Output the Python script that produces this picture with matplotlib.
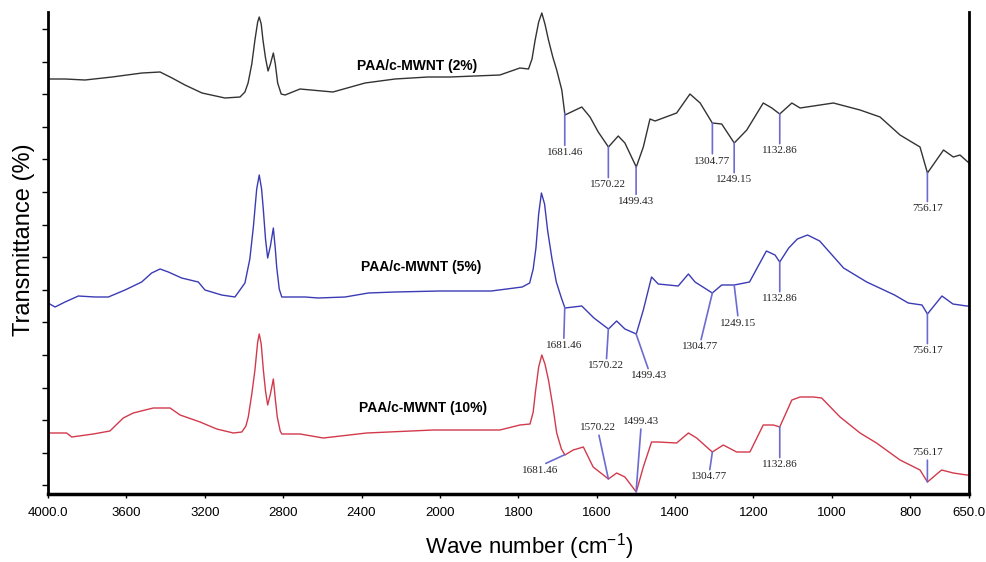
import numpy as np
import matplotlib
matplotlib.use('Agg')
import matplotlib.pyplot as plt

plt.rcParams['font.family'] = ['Liberation Sans', 'DejaVu Sans']
plt.rcParams['mathtext.fontset'] = 'custom'
plt.rcParams['mathtext.rm'] = 'Liberation Sans'
plt.rcParams['mathtext.it'] = 'Liberation Sans:italic'
plt.rcParams['mathtext.bf'] = 'Liberation Sans:bold'

# FTIR spectra, wave number (cm-1) vs transmittance (arbitrary offset units)
wn_black = [4000, 3913, 3811, 3673, 3520, 3428, 3367, 3301, 3214, 3097, 3020, 2995, 2979, 2960, 2944, 2930,
            2922, 2912, 2903, 2890, 2877, 2865, 2850, 2840, 2828, 2810, 2790, 2714, 2546, 2382, 2229, 2061,
            1974, 1847, 1796, 1774, 1765, 1757, 1748, 1740, 1732, 1723, 1712, 1702, 1689, 1681, 1638, 1617,
            1596, 1570, 1545, 1528, 1499, 1481, 1464, 1451, 1396, 1362, 1336, 1305, 1281, 1249, 1217, 1175,
            1153, 1133, 1102, 1081, 1047, 996, 928, 877, 826, 792, 775, 756, 715, 690, 673, 650]
t_black = [415, 415, 414, 417, 421, 422, 416, 409, 401, 396, 397, 402, 411, 430, 454, 472,
           477, 470, 454, 436, 423, 430, 441, 430, 411, 400, 399, 405, 402, 411, 415, 417,
           417, 419, 426, 425, 435, 454, 472, 481, 470, 454, 437, 424, 404, 379, 387, 377,
           362, 347, 358, 351, 327, 347, 375, 373, 381, 400, 391, 371, 370, 351, 364, 391,
           386, 380, 391, 386, 388, 391, 384, 377, 359, 351, 347, 321, 344, 337, 339, 331]

wn_blue = [4000, 3964, 3913, 3845, 3760, 3692, 3607, 3522, 3471, 3428, 3386, 3318, 3233, 3199, 3114, 3046,
           2995, 2970, 2952, 2935, 2922, 2910, 2901, 2890, 2879, 2865, 2850, 2840, 2833, 2820, 2807, 2688,
           2621, 2484, 2365, 2229, 2000, 1869, 1790, 1771, 1762, 1755, 1748, 1741, 1733, 1725, 1714, 1703,
           1690, 1681, 1638, 1607, 1570, 1549, 1528, 1499, 1481, 1460, 1443, 1392, 1366, 1349, 1305, 1281,
           1249, 1210, 1167, 1145, 1133, 1110, 1088, 1062, 1031, 970, 911, 840, 805, 770, 756, 719,
           691, 656, 650]
t_blue = [191, 187, 192, 198, 197, 197, 204, 212, 221, 225, 222, 216, 212, 204, 199, 197,
          211, 235, 267, 305, 319, 305, 284, 255, 236, 248, 266, 245, 227, 205, 197, 197,
          196, 197, 201, 202, 203, 203, 207, 211, 225, 246, 280, 301, 290, 263, 235, 212,
          196, 186, 188, 176, 165, 173, 165, 160, 184, 217, 210, 208, 220, 212, 201, 209,
          209, 212, 243, 239, 232, 246, 255, 259, 253, 226, 212, 199, 191, 189, 180, 198,
          190, 188, 188]

wn_red = [4000, 3905, 3879, 3769, 3684, 3616, 3565, 3463, 3377, 3326, 3224, 3139, 3054, 3011, 2990, 2978,
          2960, 2944, 2930, 2922, 2912, 2901, 2890, 2879, 2865, 2850, 2840, 2830, 2815, 2807, 2714, 2595,
          2374, 2034, 1847, 1796, 1770, 1762, 1756, 1748, 1740, 1732, 1723, 1712, 1702, 1690, 1681, 1660,
          1634, 1609, 1570, 1549, 1528, 1499, 1481, 1460, 1443, 1396, 1366, 1345, 1305, 1277, 1243, 1209,
          1175, 1149, 1133, 1102, 1081, 1047, 1026, 979, 928, 886, 826, 775, 756, 720, 690, 656, 650]
t_red = [61, 61, 57, 60, 63, 76, 81, 86, 86, 79, 72, 65, 61, 62, 68, 77,
         100, 124, 152, 160, 150, 124, 103, 89, 100, 115, 95, 77, 63, 60, 60, 56,
         61, 64, 64, 69, 70, 82, 103, 127, 139, 130, 114, 88, 61, 45, 39, 44,
         47, 27, 15, 21, 17, 2, 27, 52, 52, 51, 61, 56, 42, 49, 42, 42,
         69, 69, 67, 94, 97, 97, 96, 77, 61, 51, 34, 24, 12, 24, 21, 19, 19]

peaks_black = [1681.46, 1570.22, 1499.43, 1304.77, 1249.15, 1132.86, 756.17]
peaks_blue = [1681.46, 1570.22, 1499.43, 1304.77, 1249.15, 1132.86, 756.17]
peaks_red = [1681.46, 1570.22, 1499.43, 1304.77, 1132.86, 756.17]

# label offsets from the marked point, in pixels
off_black = [(0, -39), (0, -38), (0, -35), (0, -38), (0, -37), (0, -37), (0, -36)]
off_blue = [(-1, -38), (-2, -37), (13, -42), (-12, -54), (4, -38), (0, -37), (0, -37)]
off_red = [(-25, -16), (-10, 51), (5, 70), (-3, -25), (0, -38), (0, 29)]

xticks = [4000, 3600, 3200, 2800, 2400, 2000, 1800, 1600, 1400, 1200, 1000, 800, 650]
xticklabels = ['4000.0', '3600', '3200', '2800', '2400', '2000', '1800', '1600', '1400', '1200',
               '1000', '800', '650.0']


def fwd(x):
    x = np.asarray(x, dtype=float)
    return np.where(x > 2000, 2000 + (x - 2000) / 2.0, x)


def inv(x):
    x = np.asarray(x, dtype=float)
    return np.where(x > 2000, 2000 + (x - 2000) * 2.0, x)


fig = plt.figure(figsize=(9.87, 5.62), dpi=100)
ax = fig.add_axes([48 / 987, 1 - 494 / 562, 921 / 987, 482 / 562])
ax.set_xscale('function', functions=(fwd, inv))

ax.plot(wn_black, t_black, color='#333333', lw=1.0)
ax.plot(wn_blue, t_blue, color='#3b3bb5', lw=1.0)
ax.plot(wn_red, t_red, color='#d23a4c', lw=1.0)

mark_col = '#6b6bd2'
for wn, t, peaks, offs in [(wn_black, t_black, peaks_black, off_black),
                           (wn_blue, t_blue, peaks_blue, off_blue),
                           (wn_red, t_red, peaks_red, off_red)]:
    for p, (dx, dy) in zip(peaks, offs):
        yv = np.interp(p, wn[::-1], t[::-1])
        rel = (0.5, 1) if dy < 0 else (0.5, 0)
        ax.annotate('%.2f' % p, xy=(p, yv), xytext=(dx, dy), textcoords='offset pixels',
                    ha='center', va='center', fontsize=8, family='Liberation Serif', color='#222222',
                    arrowprops=dict(arrowstyle='-', color=mark_col, lw=1.2, shrinkA=0, shrinkB=0,
                                    relpos=rel))

ax.text(2118, 428, 'PAA/c-MWNT (2%)', fontsize=10, fontweight='bold', ha='center', va='center')
ax.text(2096, 227, 'PAA/c-MWNT (5%)', fontsize=10, fontweight='bold', ha='center', va='center')
ax.text(2086, 86, 'PAA/c-MWNT (10%)', fontsize=10, fontweight='bold', ha='center', va='center')

ax.set_xlim(4000, 650)
ax.set_ylim(0, 482)
ax.set_xticks(xticks)
ax.set_xticklabels(xticklabels, fontsize=9.5)
ax.xaxis.set_minor_locator(matplotlib.ticker.NullLocator())
ax.set_yticks(np.arange(8.6, 482, 32.6))
ax.set_yticklabels([])
ax.tick_params(axis='x', direction='out', length=3, width=1, pad=6)
ax.tick_params(axis='y', direction='out', length=4, width=1)

ax.spines['top'].set_visible(False)
ax.spines['left'].set_linewidth(2)
ax.spines['right'].set_linewidth(2)
ax.spines['bottom'].set_linewidth(2.5)

ax.set_ylabel('Transmittance (%)', fontsize=17)
ax.yaxis.set_label_coords(-0.014, 0.527)
ax.set_xlabel(r'Wave number (cm$^{-1}$)', fontsize=16)
ax.xaxis.set_label_coords(0.522, -0.078)

fig.savefig('out.png', dpi=100)
